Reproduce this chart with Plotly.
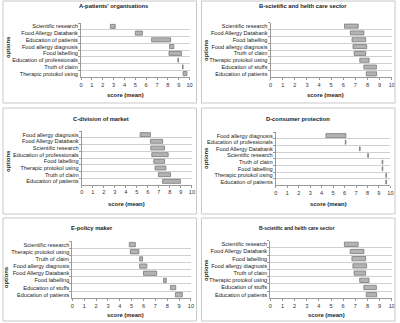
import plotly.graph_objects as go

# ---- data: score (mean) ranges per option, listed top to bottom ----
a_options = ["Scientific research", "Food Allergy Databank", "Education of patients",
             "Food allergy diagnosis", "Food labelling", "Education of professionals",
             "Truth of claim", "Therapic protokol using"]
a_low = [2.7, 5.0, 6.5, 8.15, 8.1, 8.92, 9.34, 9.4]
a_high = [3.15, 5.65, 8.25, 8.55, 9.25, 8.98, 9.4, 9.75]

b_options = ["Scientific research", "Food Allergy Databank", "Food labelling",
             "Food allergy diagnosis", "Truth of claim", "Therapic protokol using",
             "Education of stuffs", "Education of patients"]
b_low = [6.1, 6.58, 6.72, 6.8, 6.9, 7.36, 7.7, 7.9]
b_high = [7.23, 7.7, 7.85, 7.93, 7.85, 8.13, 8.73, 8.75]

c_options = ["Food allergy diagnosis", "Food Allergy Databank", "Scientific research",
             "Education of professionals", "Food labelling", "Therapic protokol using",
             "Truth of claim", "Education of patients"]
c_low = [5.3, 6.24, 6.27, 6.36, 6.54, 6.66, 6.96, 7.34]
c_high = [6.24, 7.34, 7.52, 7.85, 7.52, 7.64, 8.06, 8.96]

d_options = ["Food allergy diagnosis", "Education of professionals", "Food Allergy Databank",
             "Scientific research", "Truth of claim", "Food labelling",
             "Therapic protokol using", "Education of patients"]
d_low = [4.37, 6.06, 7.3, 8.02, 9.28, 9.28, 9.6, 9.6]
d_high = [6.12, 6.12, 7.36, 8.08, 9.34, 9.34, 9.66, 9.66]

e_options = ["Scientific research", "Therapic protokol using", "Truth of claim",
             "Food allergy diagnosis", "Food Allergy Databank", "Food labelling",
             "Education of stuffs", "Education of patients"]
e_low = [4.8, 4.89, 5.67, 5.67, 6.0, 7.69, 8.28, 8.69]
e_high = [5.31, 5.61, 5.92, 6.28, 7.11, 7.92, 8.72, 9.28]

titles = ["A-patients' organisations", "B-scietific and helth care sector",
          "C-division of market", "D-consumer protection",
          "E-policy maker", "B-scietific and helth care sector"]
x_ticks = list(range(0, 11))

panels = [
    (a_options, a_low, a_high),
    (b_options, b_low, b_high),
    (c_options, c_low, c_high),
    (d_options, d_low, d_high),
    (e_options, e_low, e_high),
    (b_options, b_low, b_high),
]

W, H = 400, 323

# layout geometry in pixels: plot area (x0, x1, y0, y1), panel frame, title/axis-title anchors
plot_px = [
    (80, 190, 23, 77),
    (272, 394.7, 22.7, 77.3),
    (80.7, 192.3, 131.3, 184.7),
    (277.3, 393.3, 132.3, 185.3),
    (71.3, 191.3, 241, 298.3),
    (271.7, 394.7, 240.7, 298.3),
]
frame_px = [
    (1, 197, 1, 103),
    (202, 398, 1, 103),
    (1, 197, 108, 214),
    (202, 398, 108, 214),
    (1, 197, 218, 321),
    (202, 398, 218, 321),
]
title_px = [(112.5, 6), (305, 6), (100.5, 119), (299.5, 119), (91.5, 228.5), (298.5, 228.5)]
xtitle_px = [(125, 94.5), (328, 94.5), (126, 204), (331, 204), (124.7, 314.5), (328.7, 314.5)]
ytitle_px = [(6, 47), (206.5, 50), (6, 161), (206.5, 158), (3.5, 276.7), (206.5, 270)]


def fx(px):
    return px / W


def fy(py):
    return 1 - py / H


FONT = "Liberation Sans, Arial, sans-serif"
fig = go.Figure()
layout = dict(
    width=W, height=H, margin=dict(l=0, r=0, t=0, b=0),
    paper_bgcolor="white", plot_bgcolor="white", showlegend=False,
    font=dict(family=FONT, size=5.6, color="#222"),
    bargap=0.4,
)
annotations = []
shapes = []

for i, (opts, low, high) in enumerate(panels):
    n = i + 1
    xa = "x" if n == 1 else f"x{n}"
    ya = "y" if n == 1 else f"y{n}"
    fig.add_trace(go.Bar(
        y=opts, base=low, x=[h - l for l, h in zip(low, high)],
        orientation="h", xaxis=xa, yaxis=ya, width=0.6,
        marker=dict(color="#b3b3b3", line=dict(color="#7a7a7a", width=0.8)),
        hoverinfo="skip",
    ))
    x0, x1, y0, y1 = plot_px[i]
    xkey = "xaxis" if n == 1 else f"xaxis{n}"
    ykey = "yaxis" if n == 1 else f"yaxis{n}"
    layout[xkey] = dict(
        domain=[fx(x0), fx(x1)], anchor=ya, range=[0, 10],
        tickvals=x_ticks, ticktext=[str(t) for t in x_ticks],
        showgrid=False, zeroline=False, showline=True, linecolor="#999", linewidth=1,
        ticks="outside", ticklen=2, tickcolor="#999", tickwidth=1,
        tickfont=dict(size=5.6, color="#333"), fixedrange=True,
    )
    layout[ykey] = dict(
        domain=[fy(y1), fy(y0)], anchor=xa, type="category",
        categoryorder="array", categoryarray=opts, autorange="reversed",
        tickmode="linear", tick0=0, dtick=1,
        tickson="boundaries", showgrid=True, gridcolor="#d0d0d0", gridwidth=1,
        showline=True, linecolor="#999", linewidth=1,
        ticks="outside", ticklen=2, tickcolor="#999", tickwidth=1,
        ticklabelstandoff=1,
        tickfont=dict(size=5.6, color="#222"), fixedrange=True,
    )
    fx0, fx1, fy0, fy1 = frame_px[i]
    shapes.append(dict(type="rect", xref="paper", yref="paper",
                       x0=fx(fx0), x1=fx(fx1), y0=fy(fy1), y1=fy(fy0),
                       line=dict(color="#c8c8c8", width=1)))
    tx, ty = title_px[i]
    annotations.append(dict(text=f"<b>{titles[i]}</b>", x=fx(tx), y=fy(ty),
                            xref="paper", yref="paper", showarrow=False,
                            xanchor="center", yanchor="middle",
                            font=dict(size=5.8 if i < 5 else 5.0, color="#222")))
    ax, ay = xtitle_px[i]
    annotations.append(dict(text="<b>score (mean)</b>", x=fx(ax), y=fy(ay),
                            xref="paper", yref="paper", showarrow=False,
                            xanchor="center", yanchor="middle",
                            font=dict(size=5.9, color="#222")))
    ox, oy = ytitle_px[i]
    annotations.append(dict(text="<b>options</b>", x=fx(ox), y=fy(oy),
                            xref="paper", yref="paper", showarrow=False,
                            xanchor="center", yanchor="middle", textangle=-90,
                            font=dict(size=5.9, color="#222")))

layout["annotations"] = annotations
layout["shapes"] = shapes
fig.update_layout(**layout)
fig.write_html("out.html")
